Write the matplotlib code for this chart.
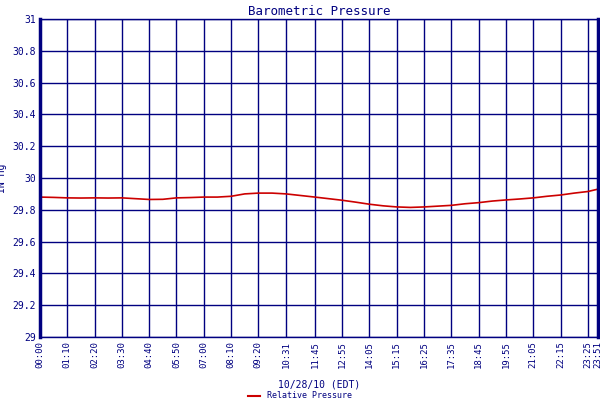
import matplotlib
matplotlib.use("Agg")
import matplotlib.pyplot as plt

# minutes after midnight and pressure readings (inHg)
minutes = [0, 35, 70, 105, 140, 175, 210, 245, 280, 315, 350, 385, 420, 455, 490,
           525, 560, 595, 631, 668, 705, 740, 775, 810, 845, 880, 915, 950, 985,
           1020, 1055, 1090, 1125, 1160, 1195, 1230, 1265, 1300, 1335, 1370, 1405, 1431]
pressure = [29.88, 29.878, 29.875, 29.874, 29.875, 29.874, 29.875, 29.87, 29.865, 29.866,
            29.875, 29.877, 29.88, 29.88, 29.885, 29.9, 29.905, 29.905, 29.9, 29.89,
            29.88, 29.87, 29.86, 29.848, 29.835, 29.825, 29.818, 29.815, 29.818, 29.823,
            29.828, 29.838, 29.845, 29.855, 29.862, 29.868, 29.875, 29.885, 29.893, 29.905,
            29.915, 29.93]
tick_labels = ["00:00", "01:10", "02:20", "03:30", "04:40", "05:50", "07:00", "08:10",
               "09:20", "10:31", "11:45", "12:55", "14:05", "15:15", "16:25", "17:35",
               "18:45", "19:55", "21:05", "22:15", "23:25", "23:51"]
tick_min = [int(t[:2]) * 60 + int(t[3:]) for t in tick_labels]
y_ticks = [29, 29.2, 29.4, 29.6, 29.8, 30, 30.2, 30.4, 30.6, 30.8, 31]
y_labels = ["29", "29.2", "29.4", "29.6", "29.8", "30", "30.2", "30.4", "30.6", "30.8", "31"]

navy = "#000080"
plt.rcParams["font.family"] = "DejaVu Sans Mono"

fig = plt.figure(figsize=(6, 4), dpi=100)
ax = fig.add_axes([40 / 600, 63 / 400, 558 / 600, 318 / 400])
ax.plot(minutes, pressure, color="#cc0000", lw=1.2)
ax.set_xlim(0, 1431)
ax.set_ylim(29, 31)
ax.set_xticks(tick_min)
ax.set_xticklabels(tick_labels, rotation=90, fontsize=6.5, color=navy)
ax.set_yticks(y_ticks)
ax.set_yticklabels(y_labels, fontsize=7, color=navy)
ax.tick_params(length=0, pad=3)
ax.grid(True, color=navy, lw=1)
for s in ax.spines.values():
    s.set_color(navy)
ax.spines["left"].set_linewidth(2.5)
ax.spines["right"].set_linewidth(2.5)
ax.spines["top"].set_linewidth(1)
ax.spines["bottom"].set_linewidth(1)
ax.set_title("Barometric Pressure", fontsize=9, color=navy, pad=3)
ax.set_ylabel("IN Hg", fontsize=7, color=navy, labelpad=4)
ax.set_xlabel("10/28/10 (EDT)", fontsize=7, color=navy, labelpad=8)
fig.legend(handles=[plt.Line2D([], [], color="#cc0000", lw=1.5)], labels=["Relative Pressure"],
           loc="lower center", bbox_to_anchor=(0.5, -0.02), frameon=False, fontsize=6,
           handlelength=1.5, labelcolor=navy)
fig.savefig("out.png", dpi=100)
